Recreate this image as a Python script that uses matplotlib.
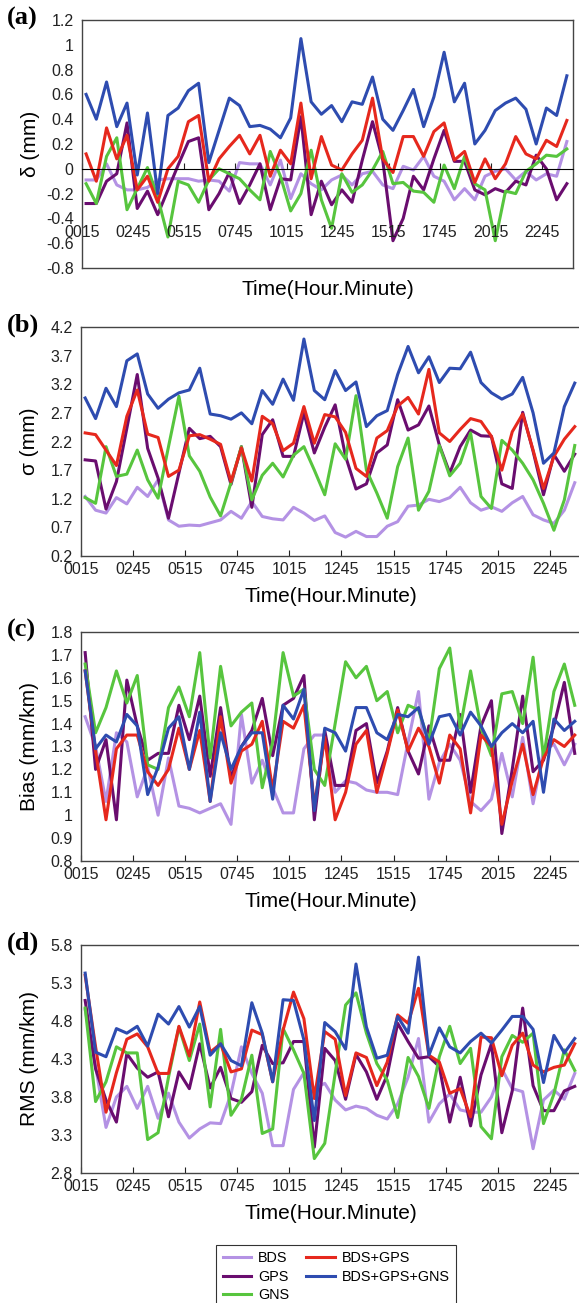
import numpy as np
import matplotlib
matplotlib.use('Agg')
import matplotlib.pyplot as plt

plt.rcParams['font.family'] = ['Liberation Sans', 'DejaVu Sans']

# epoch index (30 min spacing), first epoch a little after 00:15
epoch = np.arange(48) + 0.4
tick_pos = np.arange(0, 50, 5)
tick_lab = ['%02d%02d' % divmod(15 + 150 * i, 60) for i in range(10)]

names = ['BDS', 'GPS', 'GNS', 'BDS+GPS', 'BDS+GPS+GNS']
colors = ['#b492e4', '#6a0d6f', '#57c53e', '#e6281d', '#2e4cb0']

# (a) delta (mm)
a_bds = [-0.09, -0.09, 0.04, -0.13, -0.17, -0.17, -0.15, -0.09, -0.08, -0.08, -0.08, -0.10,
         -0.09, -0.10, -0.18, 0.05, 0.04, 0.04, -0.13, 0.07, -0.24, -0.04, -0.12, -0.17,
         -0.09, -0.05, -0.13, -0.04, -0.02, -0.13, -0.16, 0.02, -0.01, 0.10, -0.06, -0.10,
         -0.25, -0.16, -0.25, -0.06, -0.02, 0.00, -0.09, -0.02, -0.09, -0.04, -0.06, 0.22]
a_gps = [-0.28, -0.28, -0.10, -0.04, 0.37, -0.32, -0.18, -0.37, -0.17, 0.03, 0.22, 0.25,
         -0.33, -0.20, -0.03, -0.28, -0.13, 0.04, -0.33, -0.08, -0.09, 0.42, -0.37, -0.10,
         -0.29, -0.17, -0.27, 0.07, 0.38, 0.07, -0.58, -0.40, -0.06, -0.17, 0.08, 0.31,
         0.06, 0.06, -0.17, -0.21, -0.16, -0.19, -0.10, -0.13, 0.11, 0.00, -0.25, -0.12]
a_gns = [-0.12, -0.28, 0.10, 0.25, -0.33, -0.16, 0.01, -0.23, -0.55, -0.10, -0.13, -0.27,
         -0.09, 0.00, -0.04, -0.08, -0.17, -0.25, 0.14, -0.06, -0.34, -0.20, 0.15, -0.25,
         -0.48, -0.04, -0.19, -0.13, -0.01, 0.14, -0.12, -0.11, -0.18, -0.19, -0.27, 0.03,
         -0.16, 0.10, -0.12, -0.17, -0.58, -0.18, -0.20, -0.02, 0.04, 0.11, 0.10, 0.16]
a_bg = [0.12, -0.10, 0.33, 0.08, 0.27, -0.17, -0.06, -0.27, 0.00, 0.10, 0.38, 0.43,
        -0.10, 0.08, 0.18, 0.27, 0.12, 0.27, -0.06, 0.15, 0.04, 0.53, -0.08, 0.26,
        0.03, -0.01, 0.12, 0.23, 0.57, 0.08, -0.03, 0.26, 0.26, 0.10, 0.30, 0.37,
        0.07, 0.14, -0.11, 0.08, -0.08, 0.04, 0.26, 0.12, 0.08, 0.23, 0.18, 0.39]
a_bgg = [0.60, 0.40, 0.70, 0.34, 0.53, -0.05, 0.45, -0.20, 0.43, 0.49, 0.63, 0.69,
         0.05, 0.31, 0.57, 0.51, 0.34, 0.35, 0.32, 0.25, 0.41, 1.05, 0.54, 0.44,
         0.51, 0.38, 0.54, 0.52, 0.74, 0.40, 0.31, 0.47, 0.64, 0.34, 0.58, 0.94,
         0.54, 0.69, 0.20, 0.31, 0.47, 0.53, 0.57, 0.48, 0.20, 0.49, 0.43, 0.75]

# (b) sigma (mm)
b_bds = [1.24, 1.00, 0.95, 1.22, 1.11, 1.40, 1.24, 1.53, 0.83, 0.72, 0.74, 0.73,
         0.78, 0.83, 0.98, 0.86, 1.15, 0.89, 0.85, 0.83, 1.05, 0.95, 0.82, 0.90,
         0.61, 0.53, 0.63, 0.54, 0.54, 0.72, 0.80, 1.07, 1.09, 1.19, 1.15, 1.22,
         1.40, 1.13, 1.00, 1.06, 0.98, 1.13, 1.24, 0.92, 0.83, 0.77, 1.00, 1.48]
b_gps = [1.88, 1.86, 1.02, 1.50, 2.43, 3.37, 2.08, 1.56, 0.86, 1.65, 2.43, 2.25,
         2.29, 2.11, 1.45, 2.11, 1.05, 2.32, 2.58, 1.94, 1.94, 2.70, 2.00, 2.45,
         2.84, 1.94, 1.37, 1.46, 2.00, 2.14, 2.93, 2.40, 2.49, 2.82, 2.14, 1.65,
         2.11, 2.40, 2.30, 2.29, 1.46, 1.38, 2.71, 2.03, 1.27, 1.97, 1.68, 1.98]
b_gns = [1.22, 1.12, 2.11, 1.59, 1.63, 2.05, 1.53, 1.21, 2.11, 2.99, 1.95, 1.68,
         1.23, 0.90, 1.48, 2.11, 1.18, 1.61, 1.82, 1.58, 1.96, 2.11, 1.70, 1.27,
         2.16, 1.89, 3.00, 1.70, 1.30, 0.86, 1.76, 2.26, 1.00, 1.33, 2.13, 1.60,
         1.82, 2.35, 1.24, 1.03, 2.22, 2.05, 1.82, 1.53, 1.12, 0.65, 1.18, 2.13]
b_bg = [2.35, 2.32, 2.05, 1.78, 2.64, 3.10, 2.33, 2.27, 1.59, 1.70, 2.30, 2.32,
        2.24, 2.15, 1.50, 2.09, 1.51, 2.64, 2.51, 2.04, 2.17, 2.81, 2.17, 2.67,
        2.63, 2.36, 1.73, 1.59, 2.26, 2.39, 2.82, 2.97, 2.68, 3.46, 2.35, 2.20,
        2.41, 2.60, 2.55, 2.29, 1.70, 2.37, 2.68, 2.05, 1.38, 1.94, 2.24, 2.46]
b_bgg = [2.96, 2.60, 3.13, 2.81, 3.61, 3.73, 3.03, 2.78, 2.94, 3.05, 3.10, 3.48,
         2.68, 2.65, 2.59, 2.70, 2.51, 3.09, 2.85, 3.29, 2.92, 3.99, 3.09, 2.93,
         3.44, 3.09, 3.24, 2.46, 2.65, 2.74, 3.37, 3.86, 3.40, 3.68, 3.23, 3.48,
         3.47, 3.76, 3.23, 3.05, 2.94, 3.03, 3.32, 2.70, 1.82, 2.00, 2.81, 3.22]

# (c) Bias (mm/km)
c_bds = [1.43, 1.30, 1.06, 1.36, 1.32, 1.08, 1.21, 1.00, 1.25, 1.04, 1.03, 1.01,
         1.03, 1.05, 0.96, 1.44, 1.14, 1.24, 1.12, 1.01, 1.01, 1.29, 1.35, 1.35,
         1.10, 1.15, 1.14, 1.11, 1.10, 1.10, 1.09, 1.32, 1.54, 1.07, 1.23, 1.31,
         1.24, 1.06, 1.02, 1.07, 1.27, 1.08, 1.34, 1.05, 1.28, 1.31, 1.22, 1.31]
c_gps = [1.71, 1.20, 1.33, 0.98, 1.59, 1.39, 1.24, 1.27, 1.27, 1.48, 1.33, 1.52,
         1.17, 1.47, 1.16, 1.30, 1.37, 1.51, 1.26, 1.48, 1.51, 1.61, 0.98, 1.37,
         1.13, 1.13, 1.37, 1.40, 1.14, 1.28, 1.47, 1.28, 1.18, 1.39, 1.24, 1.24,
         1.44, 1.10, 1.39, 1.50, 0.92, 1.20, 1.52, 1.19, 1.24, 1.39, 1.58, 1.27]
c_gns = [1.66, 1.36, 1.47, 1.63, 1.49, 1.61, 1.22, 1.20, 1.47, 1.56, 1.43, 1.71,
         1.25, 1.65, 1.39, 1.45, 1.49, 1.12, 1.32, 1.71, 1.52, 1.55, 1.20, 1.13,
         1.40, 1.67, 1.60, 1.65, 1.50, 1.54, 1.36, 1.48, 1.46, 1.32, 1.64, 1.73,
         1.38, 1.63, 1.38, 1.26, 1.53, 1.54, 1.40, 1.69, 1.25, 1.54, 1.66, 1.48]
c_bg = [1.63, 1.28, 0.98, 1.29, 1.35, 1.35, 1.19, 1.13, 1.20, 1.38, 1.20, 1.37,
        1.06, 1.43, 1.14, 1.28, 1.31, 1.41, 1.11, 1.41, 1.38, 1.48, 1.04, 1.34,
        0.98, 1.10, 1.31, 1.37, 1.10, 1.27, 1.46, 1.28, 1.38, 1.30, 1.14, 1.35,
        1.29, 1.01, 1.35, 1.30, 0.96, 1.15, 1.31, 1.09, 1.25, 1.33, 1.30, 1.35]
c_bgg = [1.63, 1.29, 1.35, 1.32, 1.44, 1.39, 1.09, 1.21, 1.38, 1.43, 1.20, 1.45,
         1.06, 1.36, 1.20, 1.30, 1.36, 1.36, 1.07, 1.48, 1.42, 1.55, 1.02, 1.38,
         1.36, 1.28, 1.47, 1.47, 1.36, 1.33, 1.44, 1.43, 1.47, 1.31, 1.43, 1.44,
         1.35, 1.45, 1.39, 1.30, 1.36, 1.40, 1.36, 1.41, 1.10, 1.42, 1.37, 1.41]

# (d) RMS (mm/km)
d_bds = [4.95, 4.20, 3.40, 3.80, 3.94, 3.65, 3.94, 3.52, 3.85, 3.47, 3.26, 3.38,
         3.46, 3.45, 3.84, 4.46, 4.11, 3.85, 3.16, 3.16, 3.90, 4.12, 3.91, 3.98,
         3.76, 3.63, 3.68, 3.65, 3.56, 3.51, 3.71, 4.06, 4.57, 3.47, 3.71, 3.84,
         3.63, 3.60, 3.60, 3.80, 4.17, 3.91, 3.87, 3.12, 3.76, 3.89, 3.77, 4.11]
d_gps = [5.07, 4.17, 3.76, 3.47, 4.37, 4.18, 4.06, 4.13, 3.54, 4.13, 3.91, 4.50,
         3.92, 4.19, 3.78, 3.73, 3.87, 4.48, 4.24, 4.25, 4.53, 4.53, 3.14, 4.44,
         4.28, 3.77, 4.36, 4.13, 3.77, 4.09, 4.77, 4.53, 4.31, 4.33, 4.20, 3.47,
         4.06, 3.42, 4.09, 4.50, 3.33, 3.88, 4.97, 3.95, 3.62, 3.62, 3.88, 3.94]
d_gns = [4.97, 3.74, 4.00, 4.46, 4.38, 4.38, 3.24, 3.33, 4.06, 4.72, 4.28, 4.76,
         3.67, 4.69, 3.56, 3.77, 4.35, 3.32, 3.38, 4.70, 4.42, 4.11, 2.99, 3.19,
         4.11, 5.01, 5.17, 4.64, 4.24, 4.02, 3.53, 4.32, 4.07, 3.65, 4.33, 4.73,
         4.24, 4.44, 3.41, 3.25, 4.33, 4.61, 4.52, 4.64, 3.45, 3.84, 4.42, 4.15]
d_bg = [5.40, 4.46, 3.60, 4.12, 4.56, 4.63, 4.46, 4.11, 4.11, 4.73, 4.34, 5.05,
        4.39, 4.50, 4.13, 4.17, 4.68, 4.62, 4.00, 4.68, 5.18, 4.83, 3.78, 4.66,
        4.56, 3.82, 4.38, 4.32, 3.95, 4.26, 4.88, 4.77, 5.23, 4.35, 4.26, 3.85,
        3.91, 3.54, 4.59, 4.58, 4.08, 4.48, 4.64, 4.22, 4.13, 4.19, 4.22, 4.50]
d_bgg = [5.43, 4.39, 4.33, 4.70, 4.64, 4.73, 4.47, 4.89, 4.76, 4.99, 4.72, 4.99,
         4.35, 4.50, 4.28, 4.21, 5.04, 4.64, 4.00, 5.08, 5.07, 4.55, 3.49, 4.78,
         4.66, 4.43, 5.55, 4.72, 4.31, 4.35, 4.86, 4.64, 5.64, 4.35, 4.71, 4.46,
         4.38, 4.53, 4.64, 4.51, 4.68, 4.86, 4.86, 4.69, 3.99, 4.61, 4.38, 4.57]

W, H = 579, 1303
fig = plt.figure(figsize=(W / 100, H / 100), dpi=100)


def box(l, r, t, b):
    return [l / W, 1 - b / H, (r - l) / W, (b - t) / H]


panels = [
    ('(a)', 'δ (mm)', [a_bds, a_gps, a_gns, a_bg, a_bgg], (-0.8, 1.2, 0.2), box(82, 573, 20, 268)),
    ('(b)', 'σ (mm)', [b_bds, b_gps, b_gns, b_bg, b_bgg], (0.2, 4.2, 0.5), box(81, 581, 327, 556)),
    ('(c)', 'Bias (mm/km)', [c_bds, c_gps, c_gns, c_bg, c_bgg], (0.8, 1.8, 0.1), box(81, 581, 632, 861)),
    ('(d)', 'RMS (mm/km)', [d_bds, d_gps, d_gns, d_bg, d_bgg], (2.8, 5.8, 0.5), box(81, 581, 945, 1173)),
]

frame_col = '#444444'
for n, (letter, ylab, series, (y0, y1, dy), pos) in enumerate(panels):
    ax = fig.add_axes(pos)
    for vals, c, lab in zip(series, colors, names):
        ax.plot(epoch, vals, color=c, lw=2.2, label=lab)
    ax.set_xlim(0, 48)
    ax.set_ylim(y0, y1)
    yt = np.round(np.arange(y0, y1 + dy / 2, dy), 2)
    ax.set_yticks(yt)
    ax.set_yticklabels(['%g' % (v + 0.0) for v in yt])
    ax.set_xticks(tick_pos)
    ax.set_xticklabels(tick_lab)
    for s in ax.spines.values():
        s.set_color(frame_col)
        s.set_linewidth(1.0)
    ax.tick_params(direction='in', labelsize=11.5, colors='#222222', length=4, width=0.8)
    ax.tick_params(axis='y', length=0, pad=6)
    ax.set_ylabel(ylab, fontsize=15)
    ax.set_xlabel('Time(Hour.Minute)', fontsize=15)
    if n == 0:
        # x axis drawn through zero, frame closed at the bottom,
        # time labels written a little below the zero line
        ax.spines['bottom'].set_position(('data', 0))
        ax.spines['bottom'].set_color('black')
        ax.spines['bottom'].set_linewidth(0.8)
        ax.tick_params(axis='x', labelbottom=False)
        ax.plot([0, 1], [0, 0], transform=ax.transAxes, color=frame_col, lw=1.0, clip_on=False)
        for p, lab in zip(tick_pos, tick_lab):
            ax.text(p, -0.51, lab, fontsize=11.5, color='#222222', ha='center', va='center')
        ax.xaxis.set_label_coords(0.5, -0.05)
        ax.yaxis.set_label_coords(-0.086, 0.5)
    else:
        ax.tick_params(axis='x', pad=4)
        ax.xaxis.set_label_coords(0.5, -0.135)
        ax.yaxis.set_label_coords(-0.084, 0.5)
    top = pos[1] + pos[3]
    fig.text(7 / W, top + 0.001, letter, family='Liberation Serif', weight='bold',
             fontsize=19, ha='left', va='center')
    if n == 3:
        handles, labels = ax.get_legend_handles_labels()

leg = fig.legend(handles, labels, loc='upper left', bbox_to_anchor=(216 / W, 1 - 1245 / H),
                 ncol=2, fontsize=10.4, frameon=True, fancybox=False, edgecolor='black',
                 handlelength=2.0, handletextpad=0.45, columnspacing=1.2,
                 labelspacing=0.3, borderpad=0.45, borderaxespad=0)
leg.get_frame().set_linewidth(0.8)

fig.savefig('out.png', dpi=100)
